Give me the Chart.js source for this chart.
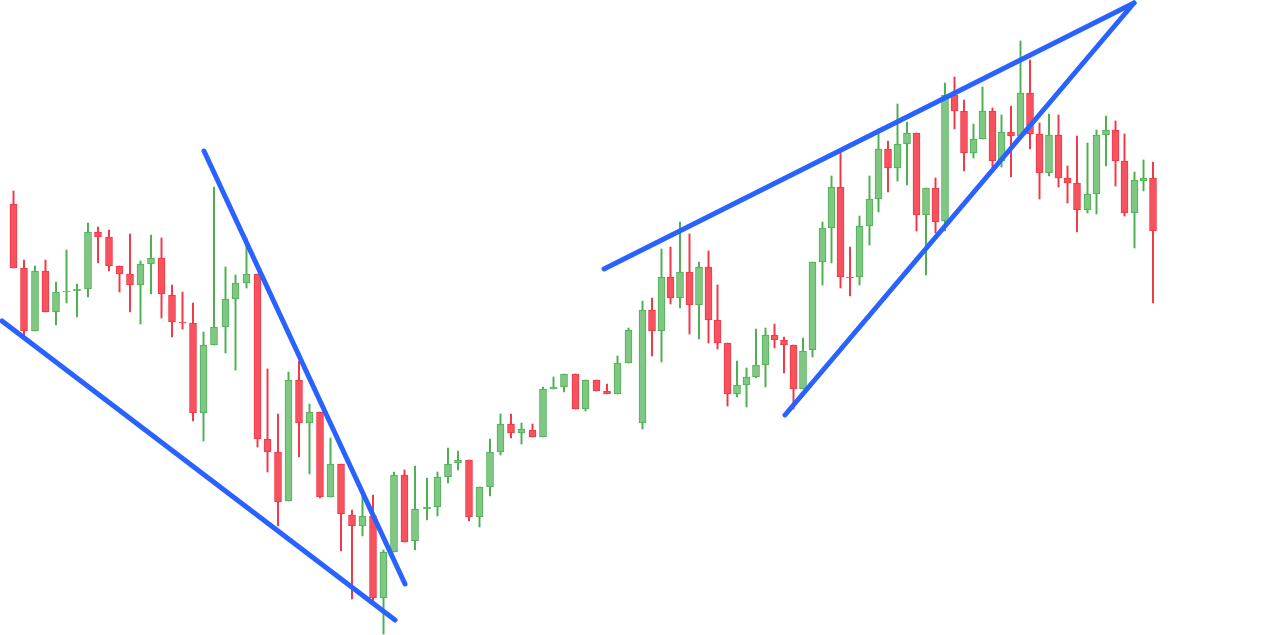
<!DOCTYPE html>
<html>
<head>
<meta charset="utf-8">
<script src="https://cdn.jsdelivr.net/npm/chart.js@4/dist/chart.umd.min.js"></script>
<style>
  html, body { margin: 0; padding: 0; background: #fff; }
  #wrap { width: 1264px; height: 635px; }
</style>
</head>
<body>
<div id="wrap"><canvas id="price-chart"></canvas></div>
<script>
// candle time positions (uneven spacing as in the picture)
const times = [13.5, 24, 35, 45.5, 56, 66.5, 77, 88, 98, 109, 119.5, 130, 140.5, 151, 161.5, 172, 182.5, 193, 203.5, 214,
  225.5, 235.5, 246.5, 257.5, 267.5, 278, 288.5, 299, 309.5, 320, 330.5, 341, 352, 362.5, 373, 383.5, 394, 404.5, 415, 427,
  437.5, 448, 458, 469, 479.5, 490, 500.5, 511, 521.5, 532.5, 543, 553.5, 564, 575.5, 585.5, 596.5, 607, 617.5, 628.5, 642.5,
  652, 661.5, 670.5, 680, 689.5, 699, 708.5, 717.5, 727.5, 737, 746.5, 756, 765.5, 774.5, 784, 793.5, 803, 812.5, 822.5, 831.5,
  840.5, 850, 859.5, 869.5, 878.5, 888, 897.5, 907, 916.5, 926, 935.5, 945, 954.5, 964, 973.5, 982.5, 992.5, 1001.5, 1011, 1020.5,
  1030, 1039.5, 1049, 1058.5, 1067.5, 1077, 1087.5, 1096.5, 1106, 1115.5, 1124.5, 1134.5, 1143.5, 1153];

const opens = [431, 367, 304, 364, 323, 343, 344, 346, 403, 398, 369, 361, 350, 371, 377, 340, 313, 312, 222, 290,
  308, 336, 352, 361, 196, 183, 134, 255, 212, 223, 138, 171, 120, 109, 119, 37, 83, 160, 94, 126,
  128, 158, 172, 175, 118, 148, 183, 211, 202, 205, 198, 246, 248, 261, 226, 255, 244, 241, 272, 212,
  325, 304, 358, 337, 363, 330, 368, 315, 292, 241, 250, 258, 270, 300, 295, 290, 246, 285, 373, 407,
  448, 358, 358, 409, 436, 486, 467, 491, 502, 420, 447, 414, 540, 524, 482, 496, 524, 474, 503, 499,
  542, 501, 462, 500, 457, 452, 425, 441, 500, 505, 474, 422, 454, 457];

const highs = [444, 375, 369, 375, 353, 385, 351, 412, 408, 405, 369, 401, 374, 400, 397, 350, 343, 332, 303, 448,
  368, 360, 397, 361, 266, 221, 263, 274, 231, 223, 197, 171, 125, 142, 140, 85, 163, 165, 169, 157,
  163, 187, 184, 175, 148, 196, 221, 221, 212, 211, 248, 258, 261, 261, 255, 255, 251, 279, 307, 334,
  337, 386, 388, 413, 401, 373, 384, 350, 292, 274, 267, 306, 307, 311, 298, 290, 297, 373, 413, 459,
  483, 388, 419, 459, 506, 494, 531, 513, 502, 447, 457, 552, 558, 535, 511, 548, 527, 520, 529, 594,
  575, 512, 521, 520, 469, 499, 492, 505, 519, 514, 501, 463, 475, 473];

const lows = [367, 298, 304, 323, 310, 332, 318, 338, 372, 364, 343, 323, 311, 341, 317, 298, 306, 214, 194, 290,
  282, 265, 347, 188, 163, 109, 134, 178, 161, 137, 138, 84, 36, 99, 34, 1, 83, 93, 85, 115,
  119, 152, 165, 114, 108, 139, 180, 197, 191, 198, 198, 246, 243, 226, 224, 244, 241, 241, 272, 206,
  279, 273, 331, 327, 301, 296, 292, 286, 229, 238, 228, 257, 248, 287, 262, 226, 246, 278, 350, 372,
  347, 339, 350, 390, 423, 443, 454, 450, 404, 360, 402, 404, 506, 464, 477, 496, 467, 468, 458, 499,
  486, 436, 459, 448, 432, 403, 422, 421, 469, 449, 419, 387, 444, 332];

const closes = [367, 304, 364, 323, 343, 344, 346, 403, 398, 369, 361, 350, 371, 377, 341, 313, 312, 222, 290, 308,
  336, 352, 361, 196, 183, 133, 255, 212, 223, 138, 171, 121, 109, 119, 37, 83, 160, 93, 126, 128,
  158, 171, 175, 118, 148, 183, 211, 202, 206, 198, 246, 248, 261, 226, 255, 244, 241, 272, 305, 325,
  304, 358, 337, 363, 330, 368, 315, 292, 241, 250, 258, 270, 300, 295, 290, 246, 284, 373, 407, 448,
  358, 357, 409, 436, 486, 467, 491, 502, 420, 447, 413, 540, 524, 482, 496, 524, 474, 503, 499, 542,
  501, 462, 500, 457, 452, 425, 441, 500, 505, 474, 422, 455, 457, 404];

// trend lines drawn on the chart: [time, price] end points
const wedgeLower = [[2, 314], [395, 15]];
const wedgeUpper = [[204, 484], [405, 51]];
const risingUpper = [[604, 366], [1134, 632]];
const risingLower = [[785, 220], [1134, 632]];

const UP = "#81c784";
const UP_LINE = "#4caf50";
const DOWN = "#f7525f";
const DOWN_LINE = "#f23645";
const TREND = "#2962ff";

const isUp = (i) => closes[i] >= opens[i];

const bodies = times.map((t, i) => ({ x: t, y: [opens[i], closes[i]] }));
const wicks = times.map((t, i) => ({ x: t, y: [lows[i], highs[i]] }));

const trendSet = (pts) => ({
  type: "line",
  data: pts.map((p) => ({ x: p[0], y: p[1] })),
  borderColor: TREND,
  borderWidth: 5,
  borderCapStyle: "round",
  pointRadius: 0,
  clip: false,
  order: 0,
});

const canvas = document.querySelector("#price-chart");

const chart = new Chart(canvas, {
  type: "bar",
  data: {
    datasets: [
      {
        data: wicks,
        backgroundColor: (ctx) => (isUp(ctx.dataIndex) ? UP_LINE : DOWN_LINE),
        barThickness: 1.3,
        grouped: false,
        order: 2,
      },
      {
        data: bodies,
        backgroundColor: (ctx) => (isUp(ctx.dataIndex) ? UP : DOWN),
        borderColor: (ctx) => (isUp(ctx.dataIndex) ? UP_LINE : DOWN_LINE),
        borderWidth: 1,
        borderSkipped: false,
        barThickness: 7,
        grouped: false,
        order: 1,
      },
      trendSet(wedgeLower),
      trendSet(wedgeUpper),
      trendSet(risingUpper),
      trendSet(risingLower),
    ],
  },
  options: {
    responsive: true,
    maintainAspectRatio: false,
    animation: false,
    layout: { padding: 0 },
    plugins: { legend: { display: false }, tooltip: { enabled: false } },
    scales: {
      x: { type: "linear", min: 0, max: 1264, offset: false, display: false },
      y: { min: 0, max: 635, display: false },
    },
  },
});
</script>
</body>
</html>
